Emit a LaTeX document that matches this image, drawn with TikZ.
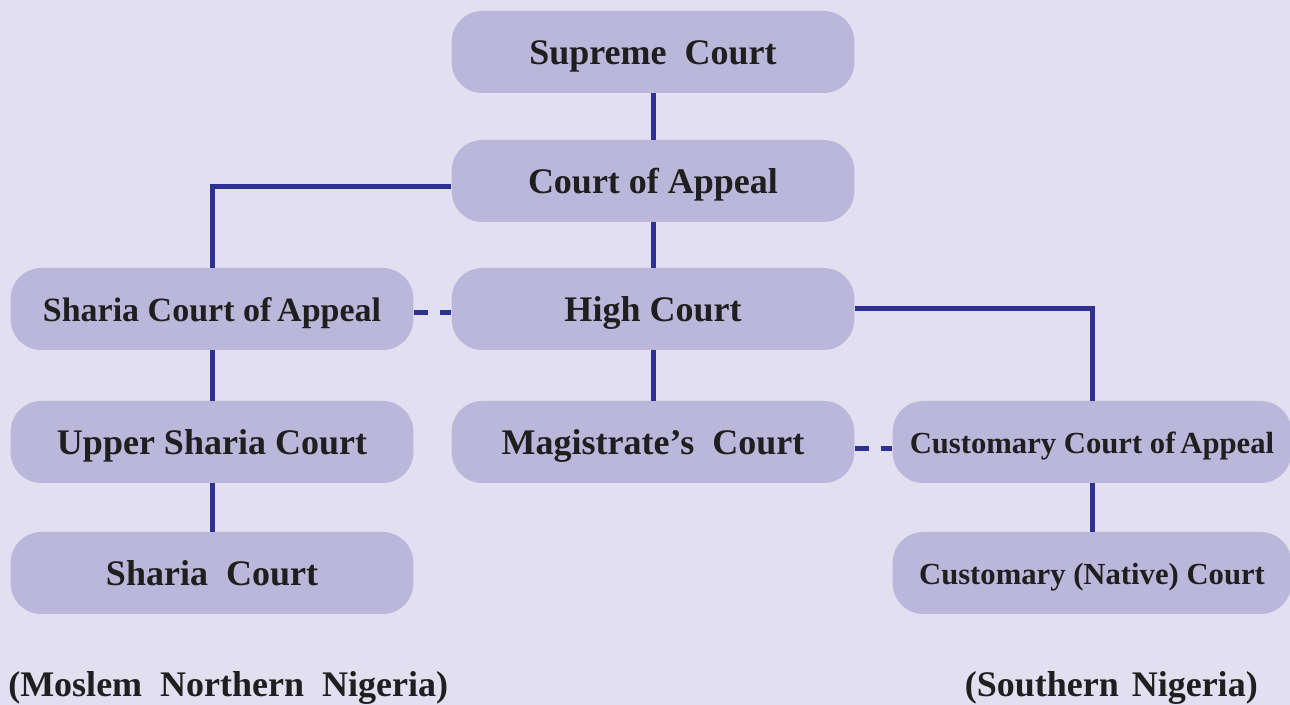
\documentclass[tikz,border=0pt]{standalone}
\usepackage{fontspec}
\setmainfont{Liberation Serif}
\definecolor{bg}{HTML}{E1DFF0}
\definecolor{boxc}{HTML}{BBB7DB}
\definecolor{linec}{HTML}{2E3192}
\begin{document}
\begin{tikzpicture}[x=0.75pt,y=-0.75pt,
  court/.style={fill=boxc, rounded corners=23pt, minimum width=302pt, minimum height=61.5pt, inner sep=0pt, text height=19.5pt, text depth=0pt, font=\bfseries\fontsize{27}{30}\selectfont, text=black!88},
  smallc/.style={court, font=\bfseries\fontsize{25.5}{28}\selectfont},
  tinyc/.style={court, text height=18pt, font=\bfseries\fontsize{23}{26}\selectfont},
  conn/.style={draw=linec, line width=3.75pt},
  dconn/.style={conn, dash pattern=on 11pt off 8.5pt},
  region/.style={font=\bfseries\fontsize{27}{30}\selectfont, text=black!88, inner sep=0pt}]
\fill[bg] (0,0) rectangle (1290,705);
\useasboundingbox (0,0) rectangle (1290,705);
% nodes
\node[court] (sup) at (653,52) {Supreme\ \ Court};
\node[court] (coa) at (653,181) {Court of Appeal};
\node[court] (hc) at (653,309) {High Court};
\node[court] (mag) at (653,442) {Magistrate’s\ \ Court};
\node[smallc] (sca) at (212,309) {Sharia Court of\kern-2pt\ Appeal};
\node[court] (usc) at (212,442) {Upper Sharia Court};
\node[court] (sc) at (212,573) {Sharia\ \ Court};
\node[tinyc, minimum width=299pt] (cca) at (1092,442) {Customary Court of\kern-2pt\ Appeal};
\node[tinyc, minimum width=299pt] (cnc) at (1092,573) {Customary (Native) Court};
\node[region, anchor=west] (north) at (8,688) {(Moslem\ \ Northern\ \ Nigeria)};
\node[region, anchor=east] (south) at (1258,688) {(Southern\kern3pt\ Nigeria)};
% connectors
\draw[conn] (sup) -- (coa);
\draw[conn] (coa) -- (hc);
\draw[conn] (hc) -- (mag);
\draw[conn] ([yshift=-4.5pt]coa.west) -| (sca.north);
\draw[conn] (sca) -- (usc);
\draw[conn] (usc) -- (sc);
\draw[conn] (hc.east) -| (cca.north);
\draw[conn] (cca) -- (cnc);
\draw[dconn] ([yshift=-3pt]sca.east) -- ([yshift=-3pt]hc.west);
\draw[dconn] ([yshift=-5pt]mag.east) -- ([yshift=-5pt]cca.west);
\end{tikzpicture}
\end{document}
